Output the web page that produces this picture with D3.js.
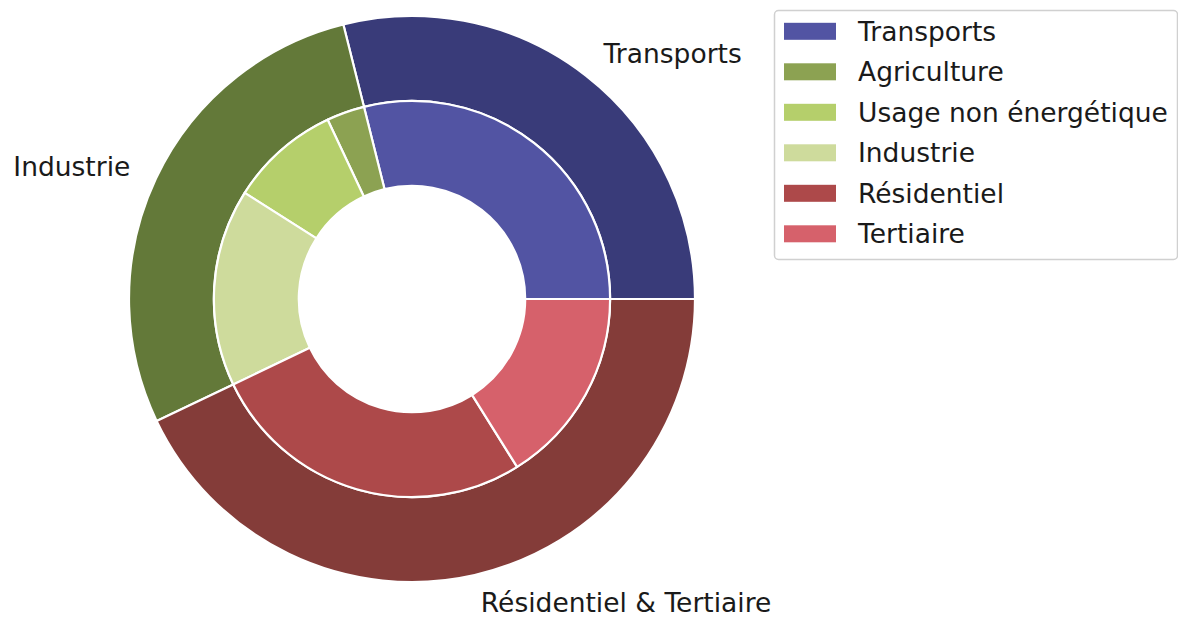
<!DOCTYPE html>
<html>
<head>
<meta charset="utf-8">
<script src="https://cdn.jsdelivr.net/npm/d3@7"></script>
<style>
  body { margin: 0; background: #fff; }
  svg { display: block; }
</style>
</head>
<body>
<script>
// outer ring: sectors
const outerLabels = ["Transports", "Industrie", "Résidentiel & Tertiaire"];
const outerValues = [28.9, 28.2, 42.9];
const outerColors = ["#393b79", "#637939", "#843c39"];

// inner ring: sub-sectors
const innerLabels = ["Transports", "Agriculture", "Usage non énergétique", "Industrie", "Résidentiel", "Tertiaire"];
const innerValues = [28.9, 3.1, 9.0, 16.1, 26.8, 16.1];
const innerColors = ["#5254a3", "#8ca252", "#b5cf6b", "#cedb9c", "#ad494a", "#d6616b"];

const width = 1178, height = 617;
const cx = 412, cy = 299, R = 283;
const fontSize = 26.5;

const svg = d3.select("body")
  .append("svg")
  .attr("width", width)
  .attr("height", height)
  .style("font-family", "'DejaVu Sans', sans-serif");

// matplotlib style: start at 3 o'clock, go counter-clockwise
const pie = d3.pie()
  .sort(null)
  .startAngle(Math.PI / 2)
  .endAngle(Math.PI / 2 - 2 * Math.PI);

const g = svg.append("g").attr("transform", `translate(${cx},${cy})`);

const outerArc = d3.arc().innerRadius(R * 0.7).outerRadius(R);
const innerArc = d3.arc().innerRadius(R * 0.4).outerRadius(R * 0.7);

const outerData = pie(outerValues);
const innerData = pie(innerValues);

g.selectAll("path.outer")
  .data(outerData)
  .enter()
  .append("path")
  .attr("class", "outer")
  .attr("d", outerArc)
  .attr("fill", (d, i) => outerColors[i])
  .attr("stroke", "#fff")
  .attr("stroke-width", 2.2)
  .attr("stroke-linejoin", "round");

g.selectAll("path.inner")
  .data(innerData)
  .enter()
  .append("path")
  .attr("class", "inner")
  .attr("d", innerArc)
  .attr("fill", (d, i) => innerColors[i])
  .attr("stroke", "#fff")
  .attr("stroke-width", 2.2)
  .attr("stroke-linejoin", "round");

// outer labels at 1.1 * radius
g.selectAll("text.lbl")
  .data(outerData)
  .enter()
  .append("text")
  .attr("class", "lbl")
  .each(function(d, i) {
    const a = (d.startAngle + d.endAngle) / 2;
    const x = Math.sin(a) * R * 1.1;
    const y = -Math.cos(a) * R * 1.1;
    d3.select(this)
      .attr("x", x)
      .attr("y", y)
      .attr("text-anchor", x > 0 ? "start" : "end")
      .attr("dominant-baseline", "central")
      .text(outerLabels[i]);
  })
  .attr("font-size", fontSize)
  .attr("fill", "#1a1a1a");

// legend
const legend = svg.append("g").attr("transform", "translate(774,10)");

legend.append("rect")
  .attr("x", 0.5)
  .attr("y", 0.5)
  .attr("width", 403)
  .attr("height", 249)
  .attr("rx", 4)
  .attr("fill", "#fff")
  .attr("stroke", "#d0d0d0")
  .attr("stroke-width", 1.5);

const rows = legend.selectAll("g.item")
  .data(innerLabels)
  .enter()
  .append("g")
  .attr("class", "item")
  .attr("transform", (d, i) => `translate(0,${21.3 + i * 40.5})`);

rows.append("rect")
  .attr("x", 10)
  .attr("y", -8.5)
  .attr("width", 52)
  .attr("height", 17)
  .attr("fill", (d, i) => innerColors[i]);

rows.append("text")
  .attr("x", 84)
  .attr("y", 0)
  .attr("dominant-baseline", "central")
  .attr("font-size", fontSize)
  .attr("fill", "#1a1a1a")
  .text(d => d);
</script>
</body>
</html>
